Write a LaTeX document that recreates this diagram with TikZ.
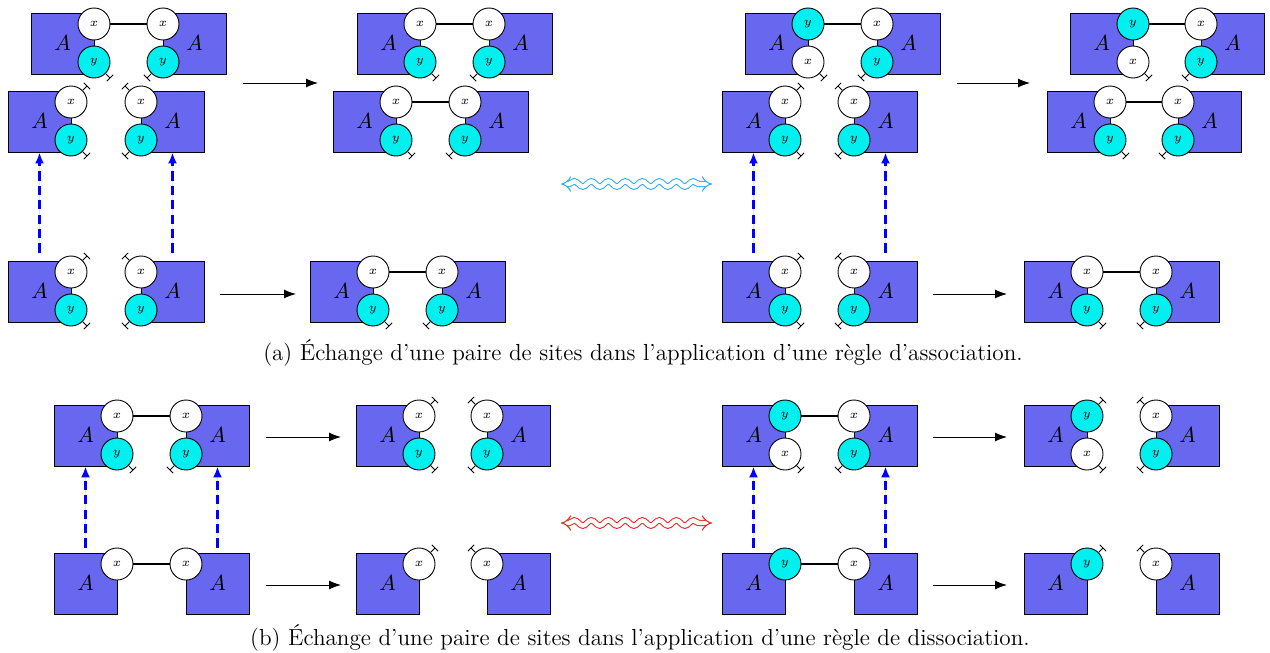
\documentclass[tikz,border=0pt]{standalone}
\usetikzlibrary{arrows.meta,decorations.pathmorphing}
\definecolor{agentblue}{RGB}{103,103,240}
\definecolor{sitecyan}{RGB}{0,240,240}
\definecolor{wavecyan}{RGB}{40,170,240}
\definecolor{wavered}{RGB}{240,30,30}
\definecolor{liftblue}{RGB}{0,0,255}
\tikzset{
  agent/.style={draw, fill=agentblue, line width=0.45pt, minimum width=31.5pt, minimum height=30.5pt, inner sep=0pt, font=\fontsize{11}{12}\selectfont},
  sitex/.style={circle, draw, fill=white, line width=0.45pt, minimum size=16pt, inner sep=0pt, font=\fontsize{6.5}{7}\selectfont},
  sitey/.style={circle, draw, fill=sitecyan, line width=0.45pt, minimum size=16pt, inner sep=0pt, font=\fontsize{6.5}{7}\selectfont},
  bond/.style={line width=0.9pt},
  freesite/.style={line width=0.45pt, -{Bar[width=4.5pt,line width=0.45pt]}},
  react/.style={line width=0.5pt, -{Latex[length=6pt,width=4.5pt]}},
  lift/.style={draw=liftblue, fill=liftblue, line width=1.1pt, dash pattern=on 4.6pt off 2.6pt, -{Latex[length=5.5pt,width=4.5pt,fill=liftblue]}},
  wave/.style={double, double distance=2.2pt, line width=0.5pt, decorate,
    decoration={snake, amplitude=1.3pt, segment length=8.5pt, pre length=4pt, post length=4pt},
    {Implies[scale=1.5]}-{Implies[scale=1.5]}},
  caption/.style={font=\fontsize{11.6}{14}\selectfont},
}
\newcommand\AgTwo[6]{%
  \node[agent] (#1r) at ({#3+(#2)*31.5},{#4+19.5}) {$A$};
  \node[site#5] (#1t) at (#3,#4) {$#5$};
  \node[site#6] (#1b) at (#3,{#4+38}) {$#6$};
}
\newcommand\AgOne[5]{%
  \node[agent] (#1r) at ({#3+(#2)*31.5},{#4+19.5}) {$A$};
  \node[site#5] (#1t) at (#3,#4) {$#5$};
}
\newcommand\fr[3]{\draw[freesite] (#1.#2) -- ++(#3:3.3pt);}
\newcommand\frL[1]{\fr{#1}{south east}{-45}}
\newcommand\frR[1]{\fr{#1}{south west}{-135}}
\newcommand\frLt[1]{\fr{#1}{north east}{45}}
\newcommand\frRt[1]{\fr{#1}{north west}{135}}
\begin{document}
\begin{tikzpicture}[x=0.5pt,y=-0.5pt]
\useasboundingbox (0,0) rectangle (1270,653);
% ---------------- part (a) ----------------
% top-left group
\AgTwo{aA}{-1}{94}{24}{x}{y}\AgTwo{aB}{1}{163}{24}{x}{y}
\draw[bond] (aAt) -- (aBt); \frL{aAb}\frR{aBb}
\AgTwo{aC}{-1}{71}{102}{x}{y}\AgTwo{aD}{1}{141}{102}{x}{y}
\frLt{aCt}\frL{aCb}\frRt{aDt}\frR{aDb}
% top-middle group
\AgTwo{aE}{-1}{420}{24}{x}{y}\AgTwo{aF}{1}{489}{24}{x}{y}
\draw[bond] (aEt) -- (aFt); \frL{aEb}\frR{aFb}
\AgTwo{aG}{-1}{396}{102}{x}{y}\AgTwo{aH}{1}{465}{102}{x}{y}
\draw[bond] (aGt) -- (aHt); \frL{aGb}\frR{aHb}
% bottom-left groups
\AgTwo{aI}{-1}{71}{272}{x}{y}\AgTwo{aJ}{1}{141}{272}{x}{y}
\frLt{aIt}\frL{aIb}\frRt{aJt}\frR{aJb}
\AgTwo{aK}{-1}{373}{272}{x}{y}\AgTwo{aL}{1}{442}{272}{x}{y}
\draw[bond] (aKt) -- (aLt); \frL{aKb}\frR{aLb}
% top-right groups
\AgTwo{aM}{-1}{808}{24}{y}{x}\AgTwo{aN}{1}{877}{24}{x}{y}
\draw[bond] (aMt) -- (aNt); \frL{aMb}\frR{aNb}
\AgTwo{aO}{-1}{785}{102}{x}{y}\AgTwo{aP}{1}{854}{102}{x}{y}
\frLt{aOt}\frL{aOb}\frRt{aPt}\frR{aPb}
\AgTwo{aQ}{-1}{1133}{24}{y}{x}\AgTwo{aR}{1}{1201}{24}{x}{y}
\draw[bond] (aQt) -- (aRt); \frL{aQb}\frR{aRb}
\AgTwo{aS}{-1}{1110}{102}{x}{y}\AgTwo{aT}{1}{1178}{102}{x}{y}
\draw[bond] (aSt) -- (aTt); \frL{aSb}\frR{aTb}
% bottom-right groups
\AgTwo{aU}{-1}{785}{272}{x}{y}\AgTwo{aV}{1}{854}{272}{x}{y}
\frLt{aUt}\frL{aUb}\frRt{aVt}\frR{aVb}
\AgTwo{aW}{-1}{1087}{272}{x}{y}\AgTwo{aX}{1}{1156}{272}{x}{y}
\draw[bond] (aWt) -- (aXt); \frL{aWb}\frR{aXb}
% reaction arrows (a)
\coordinate (r1s) at (243,83); \coordinate (r1e) at (318,83);
\coordinate (r2s) at (957,83); \coordinate (r2e) at (1030,83);
\coordinate (r3s) at (220,294); \coordinate (r3e) at (296,294);
\coordinate (r4s) at (933,294); \coordinate (r4e) at (1007,294);
\draw[react] (r1s) -- (r1e); \draw[react] (r2s) -- (r2e);
\draw[react] (r3s) -- (r3e); \draw[react] (r4s) -- (r4e);
% lifting arrows (a)
\draw[lift] ([yshift=4pt]aIr.north) -- (aCr.south);
\draw[lift] ([yshift=4pt]aJr.north) -- (aDr.south);
\draw[lift] ([yshift=4pt]aUr.north) -- (aOr.south);
\draw[lift] ([yshift=4pt]aVr.north) -- (aPr.south);
% wave (a)
\coordinate (w1l) at (561,184); \coordinate (w1r) at (712,184);
\draw[wave, wavecyan] (w1l) -- (w1r);
\node[caption] (capA) at (643,353) {(a) Échange d’une paire de sites dans l’application d’une règle d’association.};
% ---------------- part (b) ----------------
\AgTwo{bA}{-1}{117}{416}{x}{y}\AgTwo{bB}{1}{186}{416}{x}{y}
\draw[bond] (bAt) -- (bBt); \frL{bAb}\frR{bBb}
\AgTwo{bC}{-1}{419}{416}{x}{y}\AgTwo{bD}{1}{487}{416}{x}{y}
\frLt{bCt}\frL{bCb}\frRt{bDt}\frR{bDb}
\AgOne{bE}{-1}{117}{564}{x}\AgOne{bF}{1}{186}{564}{x}
\draw[bond] (bEt) -- (bFt);
\AgOne{bG}{-1}{419}{564}{x}\AgOne{bH}{1}{487}{564}{x}
\frLt{bGt}\frRt{bHt}
\AgTwo{bI}{-1}{785}{416}{y}{x}\AgTwo{bJ}{1}{854}{416}{x}{y}
\draw[bond] (bIt) -- (bJt); \frL{bIb}\frR{bJb}
\AgTwo{bK}{-1}{1087}{416}{y}{x}\AgTwo{bL}{1}{1156}{416}{x}{y}
\frLt{bKt}\frL{bKb}\frRt{bLt}\frR{bLb}
\AgOne{bM}{-1}{785}{564}{y}\AgOne{bN}{1}{854}{564}{x}
\draw[bond] (bMt) -- (bNt);
\AgOne{bO}{-1}{1087}{564}{y}\AgOne{bP}{1}{1156}{564}{x}
\frLt{bOt}\frRt{bPt}
% reaction arrows (b)
\coordinate (s1s) at (266,437); \coordinate (s1e) at (341,437);
\coordinate (s2s) at (266,585); \coordinate (s2e) at (341,585);
\coordinate (s3s) at (933,437); \coordinate (s3e) at (1007,437);
\coordinate (s4s) at (933,585); \coordinate (s4e) at (1007,585);
\draw[react] (s1s) -- (s1e); \draw[react] (s2s) -- (s2e);
\draw[react] (s3s) -- (s3e); \draw[react] (s4s) -- (s4e);
% lifting arrows (b)
\draw[lift] ([yshift=2.5pt]bEr.north) -- (bAr.south);
\draw[lift] ([yshift=2.5pt]bFr.north) -- (bBr.south);
\draw[lift] ([yshift=2.5pt]bMr.north) -- (bIr.south);
\draw[lift] ([yshift=2.5pt]bNr.north) -- (bJr.south);
% wave (b)
\coordinate (w2l) at (561,523); \coordinate (w2r) at (712,523);
\draw[wave, wavered] (w2l) -- (w2r);
\node[caption] (capB) at (640,638) {(b) Échange d’une paire de sites dans l’application d’une règle de dissociation.};
\end{tikzpicture}
\end{document}
